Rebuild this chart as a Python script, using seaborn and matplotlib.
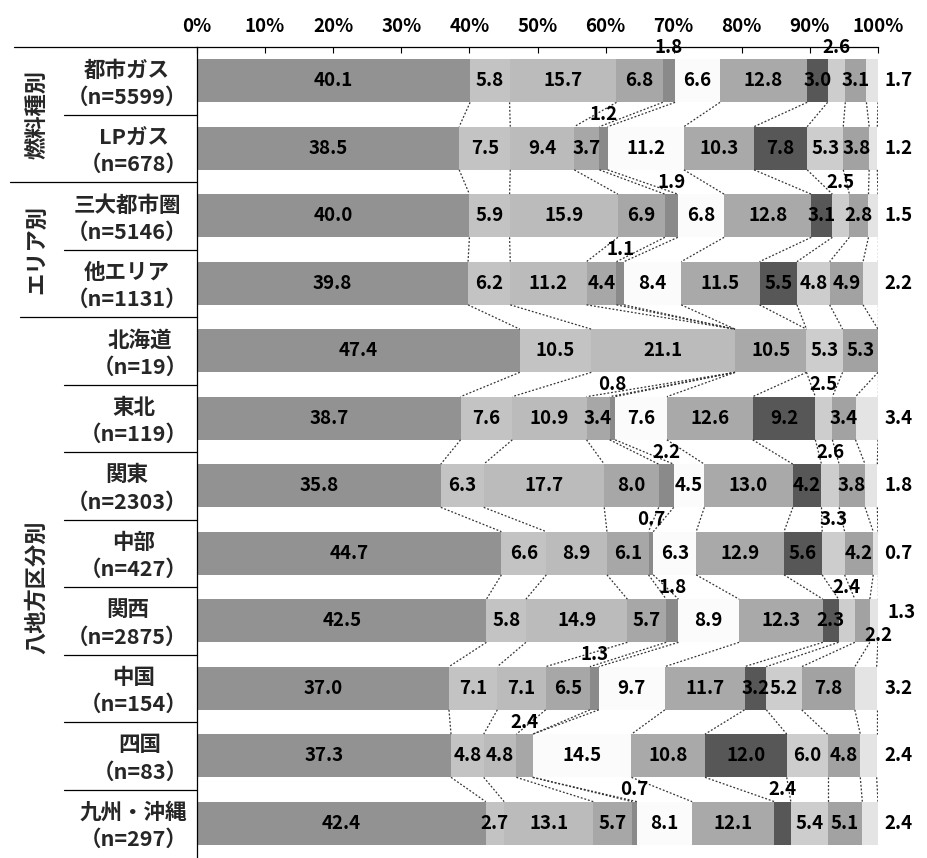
import numpy as np
import pandas as pd
import matplotlib
matplotlib.use("Agg")
import matplotlib.pyplot as plt
import matplotlib.transforms as mtransforms
import seaborn as sns

# ---------------- data ----------------
categories = ['都市ガス', 'LPガス', '三大都市圏', '他エリア', '北海道', '東北',
              '関東', '中部', '関西', '中国', '四国', '九州・沖縄']
n_values = [5599, 678, 5146, 1131, 19, 119, 2303, 427, 2875, 154, 83, 297]
group_names = ['燃料種別', 'エリア別', '八地方区分別']
group_first = [0, 2, 4]
group_last = [1, 3, 11]

seg1 = [40.1, 38.5, 40.0, 39.8, 47.4, 38.7, 35.8, 44.7, 42.5, 37.0, 37.3, 42.4]
seg2 = [5.8, 7.5, 5.9, 6.2, 10.5, 7.6, 6.3, 6.6, 5.8, 7.1, 4.8, 2.7]
seg3 = [15.7, 9.4, 15.9, 11.2, 21.1, 10.9, 17.7, 8.9, 14.9, 7.1, 4.8, 13.1]
seg4 = [6.8, 3.7, 6.9, 4.4, 0.0, 3.4, 8.0, 6.1, 5.7, 6.5, 2.4, 5.7]
seg5 = [1.8, 1.2, 1.9, 1.1, 0.0, 0.8, 2.2, 0.7, 1.8, 1.3, 0.0, 0.7]
seg6 = [6.6, 11.2, 6.8, 8.4, 0.0, 7.6, 4.5, 6.3, 8.9, 9.7, 14.5, 8.1]
seg7 = [12.8, 10.3, 12.8, 11.5, 10.5, 12.6, 13.0, 12.9, 12.3, 11.7, 10.8, 12.1]
seg8 = [3.0, 7.8, 3.1, 5.5, 0.0, 9.2, 4.2, 5.6, 2.3, 3.2, 12.0, 2.4]
seg9 = [2.6, 5.3, 2.5, 4.8, 5.3, 2.5, 2.6, 3.3, 2.4, 5.2, 6.0, 5.4]
seg10 = [3.1, 3.8, 2.8, 4.9, 5.3, 3.4, 3.8, 4.2, 2.2, 7.8, 4.8, 5.1]
seg11 = [1.7, 1.2, 1.5, 2.2, 0.0, 3.4, 1.8, 0.7, 1.3, 3.2, 2.4, 2.4]
segments = [seg1, seg2, seg3, seg4, seg5, seg6, seg7, seg8, seg9, seg10, seg11]

tick_values = [0, 10, 20, 30, 40, 50, 60, 70, 80, 90, 100]
tick_labels = [f'{v}%' for v in tick_values]

# ---------------- style ----------------
colors = ['#929292', '#c3c3c3', '#bbbbbb', '#a7a7a7', '#8a8a8a', '#fbfbfb',
          '#a9a9a9', '#575757', '#cdcdcd', '#a2a2a2', '#e4e4e4']
# labels placed in the gap above the bar: (row, segment index)
above = {(0, 8), (2, 8), (5, 8), (6, 8), (7, 8), (8, 8), (10, 3), (11, 7)}
BAR_H = 0.64

sns.set_theme(style='white')
plt.rcParams['font.family'] = ['Noto Sans CJK JP', 'DejaVu Sans']

fig = plt.figure(figsize=(9.27, 8.58), dpi=100)
ax = fig.add_axes([197 / 927, 1 / 858, 681 / 927, 810 / 858])

data = np.array(segments)            # shape (11, 12)
cum = np.cumsum(data, axis=0)        # cumulative ends

# stacked bars: draw cumulative totals from longest to shortest
for k in range(len(segments) - 1, -1, -1):
    df = pd.DataFrame({'cat': categories, 'val': cum[k]})
    sns.barplot(data=df, x='val', y='cat', orient='h', order=categories,
                color=colors[k], saturation=1, width=BAR_H, errorbar=None,
                linewidth=0, edgecolor='none', ax=ax)

ax.set_xlim(0, 100)
ax.set_ylim(11.5, -0.5)
ax.set_xlabel('')
ax.set_ylabel('')
ax.set_yticks([])

# connector (series) lines between adjacent bars
nrow = len(categories)
for i in range(nrow - 1):
    for k in range(len(segments)):
        x0 = min(cum[k][i], 100)
        x1 = min(cum[k][i + 1], 100)
        ax.plot([x0, x1], [i + BAR_H / 2, i + 1 - BAR_H / 2], color='#333333',
                lw=0.9, ls=(0, (1.5, 1.5)), zorder=3)

# value labels
lab_font = dict(fontsize=13.5, color='black', zorder=5, fontweight='bold')
for i in range(nrow):
    start = 0.0
    for k in range(len(segments)):
        v = data[k][i]
        if v > 0:
            cx = start + v / 2
            if k == 10:
                if i == 8:
                    ax.text(101.4, i - 0.12, f'{v:.1f}', ha='left', va='center',
                            clip_on=False, **lab_font)
                else:
                    ax.text(100.9, i, f'{v:.1f}', ha='left', va='center',
                            clip_on=False, **lab_font)
            elif k == 4 or (i, k) in above:
                ax.text(cx, i - 0.5, f'{v:.1f}', ha='center', va='center',
                        clip_on=False, **lab_font)
            elif i == 8 and k == 9:
                ax.text(100.0, i + 0.22, f'{v:.1f}', ha='center', va='center',
                        clip_on=False, **lab_font)
            else:
                ax.text(cx, i, f'{v:.1f}', ha='center', va='center', **lab_font)
        start += v

# top axis
ax.xaxis.tick_top()
ax.set_xticks(tick_values)
ax.set_xticklabels(tick_labels, fontsize=13.5, fontweight='bold')
ax.tick_params(axis='x', direction='in', length=4, width=0.8, pad=8,
               top=True, bottom=False, colors='black')
for s in ['right', 'bottom']:
    ax.spines[s].set_visible(False)
for s in ['top', 'left']:
    ax.spines[s].set_visible(True)
    ax.spines[s].set_color('black')
    ax.spines[s].set_linewidth(0.9)

# category labels and group labels
trans = mtransforms.blended_transform_factory(ax.transAxes, ax.transData)
for i, (c, n) in enumerate(zip(categories, n_values)):
    ax.text(-0.014, i + 0.04, f'{c}\n（n={n}）', transform=trans, ha='right',
            va='center', multialignment='center', fontsize=15.5,
            fontweight='bold', linespacing=1.35, clip_on=False)

for i in range(nrow):
    y = i - 0.5
    if i == 0:
        x_start = -0.268
    elif i in group_first:
        x_start = -0.275 if i == 2 else -0.26
    else:
        x_start = -0.195
    ax.plot([x_start, 0], [y, y], transform=trans, color='black', lw=0.9,
            clip_on=False)

for g, a, b in zip(group_names, group_first, group_last):
    ax.text(-0.235, (a + b) / 2, g, transform=trans, rotation=90, ha='center',
            va='center', fontsize=16, fontweight='bold', clip_on=False)

fig.savefig('out.png', dpi=100)
